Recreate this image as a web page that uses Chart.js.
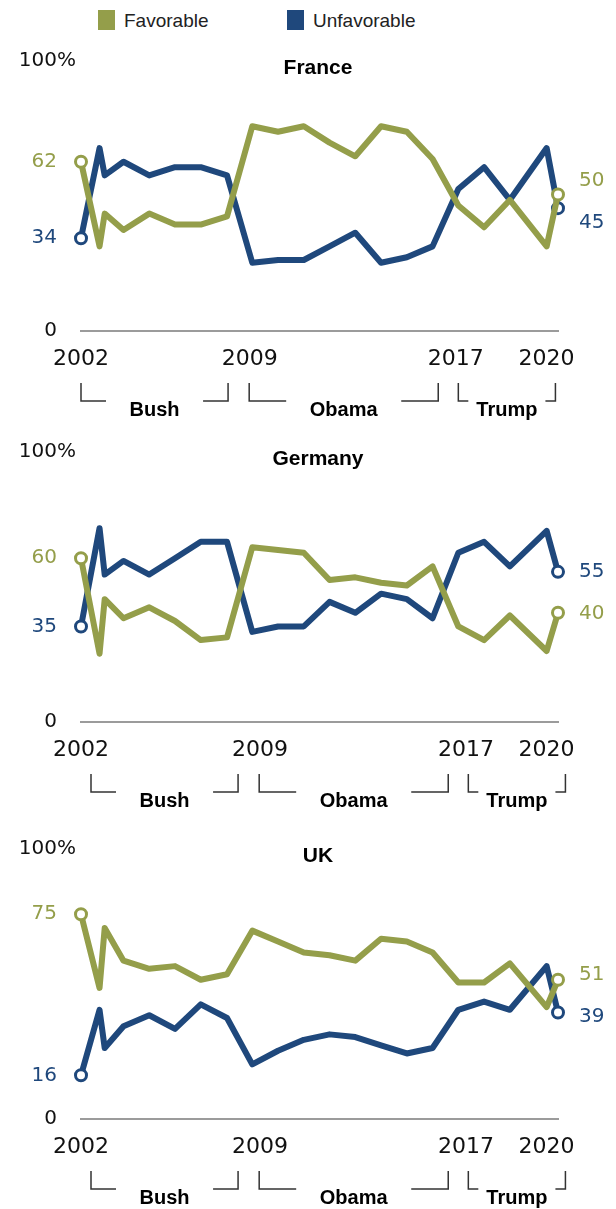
<!DOCTYPE html>
<html lang="en">
<head>
    <meta charset="UTF-8">
    <title>Views of the U.S. in France, Germany and the UK</title>
    <script src="https://cdn.jsdelivr.net/npm/chart.js"></script>
    <style>
        body { margin: 0; width: 616px; height: 1209px; overflow: hidden; background: #fff; position: relative; }
        .key { position: absolute; top: 10px; height: 20px; line-height: 20px; font: 19px "Liberation Sans", Arial, sans-serif; color: #222; }
        .key i { display: inline-block; width: 17px; height: 20px; vertical-align: top; margin-right: 9px; }
        canvas { position: absolute; left: 0; }
    </style>
</head>
<body>

    <div class="key" style="left:98px"><i style="background:#949e4a"></i>Favorable</div>
    <div class="key" style="left:287px"><i style="background:#1f487c"></i>Unfavorable</div>

    <canvas id="france" width="616" height="381" style="top:40px"></canvas>
    <canvas id="germany" width="616" height="381" style="top:431px"></canvas>
    <canvas id="uk" width="616" height="381" style="top:828px"></canvas>

    <script>
        // survey dates as decimal years (2002 summer, two surveys in 2003, then spring waves)
        const surveyDates = [2002.5, 2003.22, 2003.42, 2004.15, 2005.15, 2006.15, 2007.15, 2008.17, 2009.15, 2010.15,
            2011.15, 2012.15, 2013.15, 2014.15, 2015.15, 2016.15, 2017.15, 2018.15, 2019.15, 2020.58, 2021.02];

        const franceFav   = [62, 31, 43, 37, 43, 39, 39, 42, 75, 73, 75, 69, 64, 75, 73, 63, 46, 38, 48, 31, 50];
        const franceUnfav = [34, 67, 57, 62, 57, 60, 60, 57, 25, 26, 26, 31, 36, 25, 27, 31, 52, 60, 48, 67, 45];

        const germanyFav   = [60, 25, 45, 38, 42, 37, 30, 31, 64, 63, 62, 52, 53, 51, 50, 57, 35, 30, 39, 26, 40];
        const germanyUnfav = [35, 71, 54, 59, 54, 60, 66, 66, 33, 35, 35, 44, 40, 47, 45, 38, 62, 66, 57, 70, 55];

        const ukFav   = [75, 48, 70, 58, 55, 56, 51, 53, 69, 65, 61, 60, 58, 66, 65, 61, 50, 50, 57, 41, 51];
        const ukUnfav = [16, 40, 26, 34, 38, 33, 42, 37, 20, 25, 29, 31, 30, 27, 24, 26, 40, 43, 40, 56, 39];

        // where the year labels sit on the time axis
        const tickDatesFrance = [2002.5, 2009.05, 2017.05, 2020.57];
        const tickDatesOther  = [2002.5, 2009.45, 2017.45, 2020.57];

        // presidencies
        const eras     = ['Bush', 'Obama', 'Trump'];
        const eraStart = [2002.5, 2009.03, 2017.15];
        const eraEnd   = [2008.21, 2016.37, 2020.92];

        const GREEN = '#949e4a';
        const BLUE = '#1f487c';
        const eraArm = [25, 37, 10];

        // titles, y labels, end labels and the presidency brackets
        const panelDecor = {
            id: 'panelDecor',
            afterDatasetsDraw(chart, args, opts) {
                const { ctx, chartArea: a, scales: { x, y } } = chart;
                ctx.save();

                ctx.fillStyle = '#000';
                ctx.textAlign = 'center';
                ctx.textBaseline = 'middle';
                ctx.font = 'bold 21px "Liberation Sans", Arial, sans-serif';
                ctx.fillText(opts.title, 318, a.top + 10);

                ctx.font = '20px "DejaVu Sans", sans-serif';
                ctx.fillStyle = '#111';
                ctx.textAlign = 'right';
                ctx.fillText('0', 57, y.getPixelForValue(0));
                const w100 = ctx.measureText('100').width;
                ctx.textAlign = 'left';
                ctx.fillText('100%', 57 - w100, y.getPixelForValue(100) + 3);

                // first values on the left
                const sets = chart.data.datasets;
                ctx.textAlign = 'right';
                sets.forEach(ds => {
                    ctx.fillStyle = ds.borderColor;
                    ctx.fillText(ds.data[0].y, 57, y.getPixelForValue(ds.data[0].y));
                });

                // last values on the right, pushed apart if they crowd
                const ends = sets.map(ds => {
                    const v = ds.data[ds.data.length - 1].y;
                    return { v, py: y.getPixelForValue(v), color: ds.borderColor };
                });
                const gap = 42;
                if (Math.abs(ends[0].py - ends[1].py) < gap) {
                    const mid = (ends[0].py + ends[1].py) / 2;
                    const up = ends[0].py <= ends[1].py ? 0 : 1;
                    ends[up].py = mid - gap / 2;
                    ends[1 - up].py = mid + gap / 2;
                }
                ctx.textAlign = 'left';
                ends.forEach(e => {
                    ctx.fillStyle = e.color;
                    ctx.fillText(e.v, 579, e.py);
                });

                // presidency brackets
                const b = a.bottom;
                ctx.strokeStyle = '#333';
                ctx.lineWidth = 1.5;
                ctx.fillStyle = '#000';
                ctx.textAlign = 'center';
                ctx.font = 'bold 20px "Liberation Sans", Arial, sans-serif';
                eras.forEach((name, i) => {
                    const p1 = x.getPixelForValue(eraStart[i]) + opts.shift;
                    const p2 = x.getPixelForValue(eraEnd[i]) + opts.shift;
                    ctx.beginPath();
                    ctx.moveTo(p1, b + 52);
                    ctx.lineTo(p1, b + 70);
                    ctx.lineTo(p1 + eraArm[i], b + 70);
                    ctx.moveTo(p2 - eraArm[i], b + 70);
                    ctx.lineTo(p2, b + 70);
                    ctx.lineTo(p2, b + 52);
                    ctx.stroke();
                    ctx.fillText(name, (p1 + p2) / 2, b + 79);
                });
                ctx.restore();
            }
        };

        function points(values) {
            return surveyDates.map((d, i) => ({ x: d, y: values[i] }));
        }

        function endMarker(c) {
            return (c.dataIndex === 0 || c.dataIndex === surveyDates.length - 1) ? 5.5 : 0;
        }

        function makePanel(id, title, fav, unfav, tickDates, shift) {
            const ctx = document.getElementById(id).getContext('2d');
            return new Chart(ctx, {
                type: 'line',
                data: {
                    datasets: [
                        { label: 'Favorable', data: points(fav), borderColor: GREEN },
                        { label: 'Unfavorable', data: points(unfav), borderColor: BLUE }
                    ].map(ds => Object.assign(ds, {
                        borderWidth: 6,
                        borderJoinStyle: 'round',
                        fill: false,
                        tension: 0,
                        clip: false,
                        pointRadius: endMarker,
                        pointHoverRadius: endMarker,
                        pointBorderWidth: 3,
                        pointBackgroundColor: '#fff',
                        pointBorderColor: ds.borderColor
                    }))
                },
                options: {
                    responsive: false,
                    animation: false,
                    events: [],
                    layout: { padding: { top: 18, left: 81, right: 58, bottom: 33.6 } },
                    scales: {
                        x: {
                            type: 'linear',
                            min: 2002.5,
                            max: 2021.02,
                            afterBuildTicks: s => { s.ticks = tickDates.map(v => ({ value: v })); },
                            ticks: {
                                padding: 15,
                                autoSkip: false,
                                maxRotation: 0,
                                color: '#111',
                                font: { family: 'DejaVu Sans', size: 22 },
                                callback: v => String(Math.floor(v))
                            },
                            grid: { display: false, drawTicks: false },
                            border: { display: true, color: '#9b9b9b', width: 2 }
                        },
                        y: { min: 0, max: 100, display: false }
                    },
                    plugins: {
                        legend: { display: false },
                        tooltip: { enabled: false },
                        panelDecor: { title: title, shift: shift }
                    }
                },
                plugins: [panelDecor]
            });
        }

        makePanel('france', 'France', franceFav, franceUnfav, tickDatesFrance, 0);
        makePanel('germany', 'Germany', germanyFav, germanyUnfav, tickDatesOther, 10);
        makePanel('uk', 'UK', ukFav, ukUnfav, tickDatesOther, 10);
    </script>

</body>
</html>
